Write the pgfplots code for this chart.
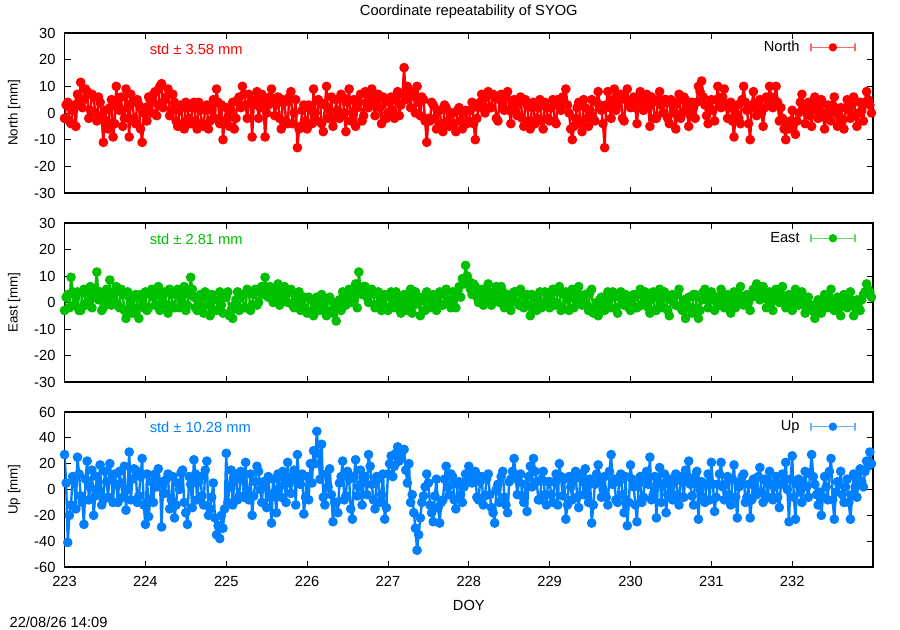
\documentclass[border=0pt]{standalone}
\usepackage{fontspec}
\setmainfont{Liberation Sans}
\usepackage{pgfplots}
\usepackage{pgfplotstable}
\pgfplotsset{compat=1.18}
\definecolor{gred}{HTML}{FF0000}
\definecolor{ggreen}{HTML}{00C000}
\definecolor{gblue}{HTML}{0080FF}

\pgfplotstableread{
t N E U
223.00 -2 -3 27
223.02 3 2 5
223.04 4 3 -41
223.06 -3 -2 -20
223.08 -4 9.5 -12
223.10 1 4 10
223.12 3 -1 8
223.14 -5 2 -15
223.16 7 4 25
223.18 5 -3 12
223.20 11.5 -3 -5
223.22 2 4 -10
223.24 5 5 -27
223.26 9 -1 8
223.28 8 0 22
223.30 -2 3 -8
223.32 1 6 2
223.34 7 -2 15
223.36 6 2 -20
223.38 0 5 -5
223.40 -3 11.5 10
223.42 6 1 0
223.44 4 4 19
223.46 -2 -3 -12
223.48 -11 -2 -8
223.50 1 3 14
223.52 -3 5 6
223.54 -6 0 -6
223.56 2 8.5 20
223.58 5 -1 8
223.60 -9 1 -10
223.62 -4 4 12
223.64 10 6 4
223.66 3 -1 -10
223.68 1 -2 14
223.70 6 5 5
223.72 -5 3 -6
223.74 -2 -3 18
223.76 9 -6 -16
223.78 2 4 0
223.80 -9 2 29
223.82 7 -1 -8
223.84 4 -4 8
223.86 -2 2 16
223.88 -4 3 15
223.90 5 -2 -10
223.92 3 -6 -5
223.94 -6 3 10
223.96 -11 1 24
223.98 0 -2 -12
224.00 2 4 -27
224.02 -3 -3 12
224.04 6 -2 -21
224.06 4 3 -8
224.08 0 5 6
224.10 7 2 -10
224.12 8 -1 12
224.14 -1 4 2
224.16 3 6 16
224.18 10 -3 6
224.20 11 0 -29
224.22 2 3 4
224.24 5 4 -3
224.26 6 -1 8
224.28 9 -4 12
224.30 -1 5 -15
224.32 1 3 -8
224.34 7 -1 10
224.36 4 -2 -22
224.38 -3 3 -12
224.40 -5 5 5
224.42 1 -2 0
224.44 3 1 13
224.46 -4 4 15
224.48 -6 6 -10
224.50 4 -3 -18
224.52 2 -1 -27
224.54 -2 3 10
224.56 -4 9.5 4
224.58 2 5 -14
224.60 4 2 23
224.62 -3 -2 12
224.64 -6 -3 -8
224.66 4 1 6
224.68 1 3 10
224.70 -4 -2 -5
224.72 -5 -4 -12
224.74 2 4 15
224.76 3 2 22
224.78 -6 -1 -20
224.80 -3 -5 -15
224.82 1 3 -6
224.84 5 1 5
224.86 -2 -3 -22
224.88 9 -3 -35
224.90 4 1 -28
224.92 -4 4 -38
224.94 3 -1 -20
224.96 -10 -4 -30
224.98 -3 3 -15
225.00 2 2 28
225.02 -2 4 -10
225.04 -5 -5 2
225.06 1 -3 15
225.08 4 -6 -12
225.10 -6 -1 6
225.12 -2 1 12
225.14 5 4 -8
225.16 6 -3 -5
225.18 2 2 14
225.20 10 3 8
225.22 7 -2 -6
225.24 3 -2 21
225.26 -2 5 -2
225.28 7 4 -8
225.30 4 -3 12
225.32 -9 -1 -20
225.34 3 3 -5
225.36 5 5 6
225.38 8 -1 18
225.40 -2 0 14
225.42 2 4 0
225.44 7 6 -10
225.46 4 3 6
225.48 -9 9.5 4
225.50 0 4 -14
225.52 3 2 10
225.54 6 6 -6
225.56 9 5 -26
225.58 5 0 8
225.60 -1 1 -2
225.62 3 4 -18
225.64 6 7 12
225.66 -2 -1 2
225.68 -6 2 -6
225.70 5 5 14
225.72 4 6 8
225.74 -3 3 -10
225.76 -4 0 21
225.78 6 4 5
225.80 8 5 -3
225.82 -4 -1 10
225.84 0 -2 15
225.86 5 1 -12
225.88 -13 3 27
225.90 -6 4 6
225.92 -5 -3 4
225.94 1 -1 12
225.96 3 2 -19
225.98 -3 -3 -6
226.00 -6 -4 10
226.02 3 2 -8
226.04 2 1 20
226.06 -4 -3 5
226.08 9 -5 30
226.10 0 0 20
226.12 -3 2 45
226.14 5 -2 28
226.16 4 -3 8
226.18 -4 3 35
226.20 -7 0 -6
226.22 3 -3 -12
226.24 10 -5 12
226.26 -2 1 2
226.28 1 2 16
226.30 6 -3 -4
226.32 -5 -4 -25
226.34 -2 0 -10
226.36 5 -7 -10
226.38 1 -2 -18
226.40 -2 1 5
226.42 7 -3 10
226.44 6 4 22
226.46 0 2 -8
226.48 -7 -1 -5
226.50 4 3 14
226.52 9 5 8
226.54 -3 0 -15
226.56 0 1 -23
226.58 5 4 10
226.60 -5 7 23
226.62 2 -2 -5
226.64 4 11.5 2
226.66 7 5 15
226.68 -3 3 -12
226.70 -1 6 6
226.72 8 6 10
226.74 4 2 -4
226.76 2 0 27
226.78 6 3 18
226.80 9 5 4
226.82 3 4 -8
226.84 -1 -2 -15
226.86 5 -1 10
226.88 7 4 8
226.90 2 2 -10
226.92 -4 -3 -4
226.94 6 1 12
226.96 5 3 -23
226.98 -2 -2 -14
227.00 0 -3 12
227.02 4 2 20
227.04 6 4 26
227.06 1 -1 10
227.08 -2 -2 18
227.10 5 4 28
227.12 8 2 33
227.14 -1 0 22
227.16 3 -4 24
227.18 7 1 30
227.20 17 3 31
227.22 5 -1 15
227.24 10 -3 5
227.26 6 2 20
227.28 2 5 -10
227.30 8 -4 -4
227.32 7 -1 -18
227.34 0 4 -30
227.36 10 2 -47
227.38 4 0 -35
227.40 -1 -5 -22
227.42 6 2 -10
227.44 5 1 -5
227.46 -3 -3 2
227.48 -11 4 12
227.50 -2 3 5
227.52 -3 -2 -12
227.54 4 0 -18
227.56 3 3 -25
227.58 -2 -2 -5
227.60 -6 -3 8
227.62 1 2 -14
227.64 1 4 -26
227.66 -4 -1 -10
227.68 -7 -1 -8
227.70 3 3 8
227.72 2 5 18
227.74 -3 1 2
227.76 -5 0 -4
227.78 0 -2 12
227.80 0 4 10
227.82 -4 2 -8
227.84 -7 -2 -15
227.86 1 3 4
227.88 2 6 6
227.90 -3 2 -4
227.92 -6 9 -10
227.94 0 7 2
227.96 1 14 12
227.98 -4 10 8
228.00 -3 8 18
228.02 1 5 10
228.04 4 3 5
228.06 -4 7 12
228.08 -10 6 14
228.10 -2 2 -6
228.12 2 0 -8
228.14 4 3 6
228.16 7 5 10
228.18 3 -1 -12
228.20 0 1 -5
228.22 6 5 8
228.24 8 7 12
228.26 2 3 -4
228.28 2 -1 -14
228.30 7 2 -18
228.32 6 4 -26
228.34 -2 6 0
228.36 -3 2 4
228.38 5 0 -10
228.40 7 6 10
228.42 3 4 14
228.44 1 -2 -6
228.46 6 1 -12
228.48 8 3 -18
228.50 1 -1 6
228.52 -4 -3 8
228.54 4 2 14
228.56 5 4 24
228.58 1 4 10
228.60 -1 0 -4
228.62 4 -1 6
228.64 6 5 12
228.66 -2 3 -5
228.68 -5 -2 -10
228.70 5 0 4
228.72 3 3 -17
228.74 -3 -1 10
228.76 -6 -5 18
228.78 2 3 2
228.80 4 2 24
228.82 -4 -2 14
228.84 -2 -3 6
228.86 2 1 -8
228.88 5 4 -8
228.90 -3 -2 8
228.92 -6 -1 14
228.94 4 4 -4
228.96 2 3 -12
228.98 -2 1 6
229.00 -3 -2 6
229.02 2 3 -4
229.04 5 5 -10
229.06 -3 -1 6
229.08 -4 0 12
229.10 5 4 -12
229.12 3 6 20
229.14 1 -3 10
229.16 6 -2 -5
229.18 4 3 8
229.20 9 4 -23
229.22 3 1 -12
229.24 0 -3 10
229.26 -6 2 2
229.28 -10 5 -8
229.30 -5 -2 8
229.32 -2 1 14
229.34 2 4 -6
229.36 4 6 -14
229.38 -4 2 12
229.40 -7 -1 8
229.42 5 1 -4
229.44 2 3 16
229.46 -2 -1 2
229.48 -5 -3 -10
229.50 1 4 8
229.52 5 5 -26
229.54 -2 -4 -12
229.56 -3 -2 4
229.58 4 0 12
229.60 8 -5 19
229.62 3 1 6
229.64 1 2 -6
229.66 -4 -1 0
229.68 -13 -3 10
229.70 3 2 -6
229.72 8 4 -12
229.74 2 1 14
229.76 -2 -2 27
229.78 5 4 4
229.80 9 3 8
229.82 1 -2 -8
229.84 3 -4 -10
229.86 6 2 6
229.88 7 4 12
229.90 -2 0 -4
229.92 -3 -1 -18
229.94 5 3 10
229.96 9 2 -28
229.98 4 -2 -10
230.00 2 -3 19
230.02 4 1 8
230.04 6 3 2
230.06 2 -2 -12
230.08 -4 -2 -25
230.10 4 3 4
230.12 8 5 10
230.14 3 -1 -10
230.16 1 0 -6
230.18 5 4 8
230.20 7 2 14
230.22 2 -2 4
230.24 -5 -4 25
230.26 6 1 -8
230.28 4 4 -4
230.30 -2 -3 10
230.32 -2 -3 -22
230.34 5 2 6
230.36 8 5 17
230.38 3 -1 -10
230.40 0 -2 4
230.42 5 4 12
230.44 5 2 -18
230.46 -2 -3 -4
230.48 -4 -5 8
230.50 5 1 2
230.52 3 3 -8
230.54 0 2 6
230.56 -6 -1 12
230.58 4 3 -4
230.60 7 5 -12
230.62 -2 -2 10
230.64 0 -3 6
230.66 6 1 -6
230.68 5 -6 15
230.70 2 -1 8
230.72 -5 2 22
230.74 -1 -2 4
230.76 4 -4 -5
230.78 2 3 -12
230.80 -2 3 10
230.82 4 -2 14
230.84 10 -6 -23
230.86 8 -3 0
230.88 12 1 6
230.90 6 4 -6
230.92 3 5 -10
230.94 -1 1 4
230.96 -4 -2 12
230.98 2 3 -8
231.00 5 4 21
231.02 1 1 4
231.04 -3 -3 -17
231.06 5 2 -6
231.08 10 2 4
231.10 4 -1 12
231.12 2 5 21
231.14 6 2 2
231.16 9 -2 -8
231.18 3 1 4
231.20 -2 3 10
231.22 2 -1 -4
231.24 4 -4 -12
231.26 -3 2 8
231.28 -9 4 19
231.30 0 -2 -6
231.32 3 0 -22
231.34 -2 3 2
231.36 -4 6 6
231.38 5 2 10
231.40 10 -1 12
231.42 4 1 -10
231.44 1 3 -6
231.46 -4 0 4
231.48 -10 -3 -22
231.50 3 2 -8
231.52 8 5 8
231.54 2 3 2
231.56 -1 7 -4
231.58 3 4 10
231.60 5 1 17
231.62 0 2 -2
231.64 -5 6 -10
231.66 2 3 8
231.68 6 -2 6
231.70 3 1 -6
231.72 10 4 14
231.74 6 0 4
231.76 2 -3 -8
231.78 5 2 2
231.80 10 5 10
231.82 4 1 -6
231.84 -3 0 -14
231.86 2 3 4
231.88 -2 6 12
231.90 -6 2 6
231.92 -10 -2 21
231.94 -4 1 0
231.96 -6 3 -25
231.98 -3 -1 8
232.00 1 -3 26
232.02 -4 1 -6
232.04 -8 5 -23
232.06 -3 2 4
232.08 0 -1 8
232.10 4 2 -2
232.12 7 4 -10
232.14 2 -1 4
232.16 -4 -4 14
232.18 1 0 2
232.20 4 2 -6
232.22 -1 -1 12
232.24 -5 -3 27
232.26 2 -1 10
232.28 6 -6 4
232.30 1 -2 -4
232.32 -2 1 -12
232.34 3 -3 -2
232.36 5 -4 -20
232.38 0 -1 -6
232.40 -6 3 10
232.42 -2 0 2
232.44 3 -2 -8
232.46 1 2 14
232.48 -3 5 24
232.50 3 1 -8
232.52 6 -3 -23
232.54 0 -1 -2
232.56 -5 2 6
232.58 -1 -2 4
232.60 2 -5 14
232.62 -3 0 -4
232.64 -6 3 -10
232.66 2 1 2
232.68 5 -2 8
232.70 1 2 -10
232.72 -2 4 -23
232.74 3 -1 -4
232.76 6 -5 12
232.78 -1 -1 2
232.80 -5 1 -6
232.82 0 -2 8
232.84 4 -3 16
232.86 1 1 6
232.88 -3 3 2
232.90 4 4 14
232.92 8 7 22
232.94 5 5 18
232.96 3 4 29
232.98 0 2 20
}\syog

\pgfplotsset{
  panel/.style={
    scale only axis, width=606.4pt,
    xmin=223, xmax=233, xtick={223,224,...,232},
    tick align=inside,
    axis line style={line width=1.1pt},
    major tick length=4.5pt,
    every tick/.style={black, line width=0.6pt},
    /pgf/number format/assume math mode=true,
    tick label style={font=\fontsize{11}{13}\selectfont},
    yticklabel style={xshift=-3.3pt},
    xticklabel style={yshift=-3.4pt},
    label style={font=\fontsize{11}{13}\selectfont},
    every axis y label/.style={at={(axis description cs:-0.0623,0.5)}, rotate=90, anchor=center},
    legend plot pos=right,
    legend style={draw=none, fill=none, inner sep=0pt, column sep=6pt,
      font=\fontsize{11}{13}\selectfont, anchor=east},
  },
  gleg/.style={legend image code/.code={
    \draw[#1!60, line width=0.9pt] (0pt,0pt) -- (33pt,0pt);
    \draw[#1!60, line width=0.9pt] (0pt,-2.6pt) -- (0pt,2.6pt);
    \draw[#1!60, line width=0.9pt] (33pt,-2.6pt) -- (33pt,2.6pt);
    \fill[#1] (16.5pt,0pt) circle (2.2pt);
  }},
  gdata/.style={color=#1, line width=1.8pt, line join=round, line cap=round,
    mark=*, mark size=2.7pt, mark options={solid, fill=#1, draw=none}},
}

\begin{document}
\begin{tikzpicture}
\useasboundingbox (0,0) rectangle (675pt,472.5pt);

% North
\begin{axis}[panel, height=120pt, at={(48.4pt,327.75pt)}, anchor=south west,
  ymin=-30, ymax=30, ytick={-30,-20,...,30}, xticklabels={},
  ylabel={North [mm]},
  title={Coordinate repeatability of SYOG},
  title style={at={(axis description cs:0.5,1.082)}, anchor=center, font=\fontsize{11}{13}\selectfont},
  gleg=gred,
  legend style={at={(axis description cs:0.9786,0.9106)}}]
\addplot[gdata=gred] table[x=t, y=N] {\syog};
\addlegendentry{North}
\node[anchor=west, text=gred, font=\fontsize{11}{13}\selectfont] at (axis description cs:0.0996,0.898) {std ± 3.58 mm};
\end{axis}

% East
\begin{axis}[panel, height=119.25pt, at={(48.4pt,186pt)}, anchor=south west,
  ymin=-30, ymax=30, ytick={-30,-20,...,30}, xticklabels={},
  ylabel={East [mm]},
  gleg=ggreen,
  legend style={at={(axis description cs:0.9786,0.904)}}]
\addplot[gdata=ggreen] table[x=t, y=E] {\syog};
\addlegendentry{East}
\node[anchor=west, text=ggreen, font=\fontsize{11}{13}\selectfont] at (axis description cs:0.0996,0.8975) {std ± 2.81 mm};
\end{axis}

% Up
\begin{axis}[panel, height=116.25pt, at={(48.4pt,47.25pt)}, anchor=south west,
  ymin=-60, ymax=60, ytick={-60,-40,...,60},
  ylabel={Up [mm]}, xlabel={DOY},
  xlabel style={at={(axis description cs:0.5,-0.245)}, anchor=center},
  gleg=gblue,
  legend style={at={(axis description cs:0.9786,0.905)}}]
\addplot[gdata=gblue] table[x=t, y=U] {\syog};
\addlegendentry{Up}
\node[anchor=west, text=gblue, font=\fontsize{11}{13}\selectfont] at (axis description cs:0.0996,0.899) {std ± 10.28 mm};
\end{axis}

\node[anchor=west, font=\fontsize{11}{13}\selectfont, inner sep=0pt] at (7pt,5.8pt) {22/08/26 14:09};
\end{tikzpicture}
\end{document}
